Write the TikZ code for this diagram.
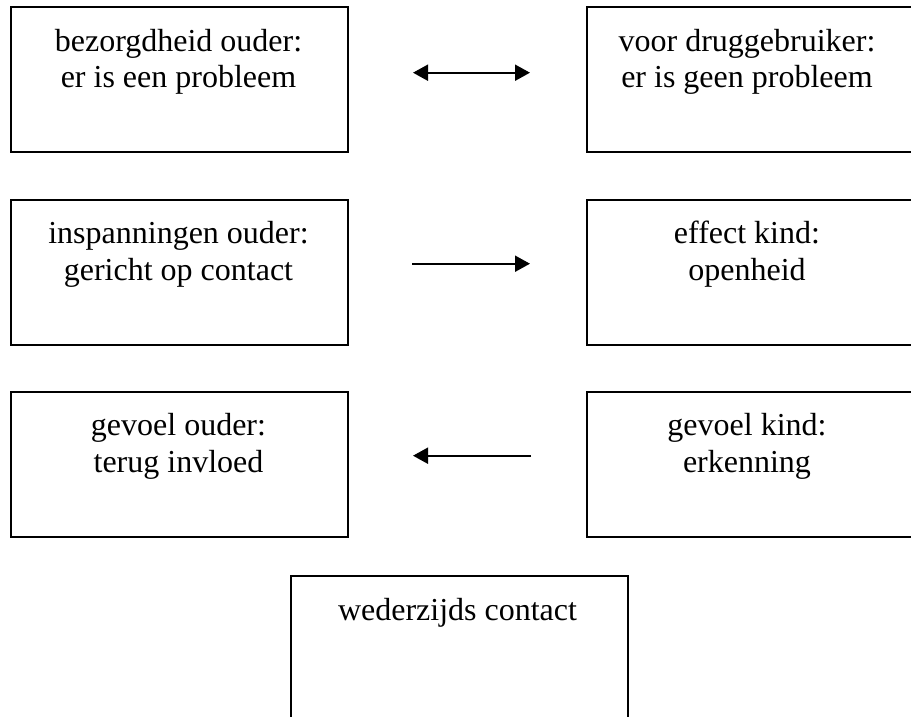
\documentclass[tikz,border=0pt]{standalone}
\usepackage{fontspec}
\setmainfont{Liberation Serif}
\usetikzlibrary{arrows.meta}
\begin{document}
\begin{tikzpicture}[x=1pt,y=-1pt,
  box/.style={draw, line width=2pt, minimum width=337pt, minimum height=145pt, inner sep=0pt, anchor=north west},
  txt/.style={anchor=base, align=center, inner sep=0pt, font=\fontsize{32}{36.8}\selectfont},
  arr/.style={line width=2pt, -{Triangle[length=15pt,width=16pt]}},
  darr/.style={line width=2pt, {Triangle[length=15pt,width=16pt]}-{Triangle[length=15pt,width=16pt]}}]
\useasboundingbox (0,0) rectangle (911,717);
\clip (0,0) rectangle (911,717);
% boxes
\node[box] (l1) at (10,6) {};
\node[box] (r1) at (586,6) {};
\node[box] (l2) at (10,198.5) {};
\node[box] (r2) at (586,198.5) {};
\node[box] (l3) at (10,390.5) {};
\node[box] (r3) at (586,390.5) {};
\node[box] (b)  at (290,575) {};
% texts (anchor base = baseline of the last line)
\node[txt] (tl1) at ([xshift=168.5pt,yshift=-82pt]l1.north west) {bezorgdheid ouder:\\er is een probleem};
\node[txt] (tr1) at ([xshift=161pt,yshift=-82pt]r1.north west) {voor druggebruiker:\\er is geen probleem};
\node[txt] (tl2) at ([xshift=168.5pt,yshift=-82pt]l2.north west) {inspanningen ouder:\\gericht op contact};
\node[txt] (tr2) at ([xshift=161pt,yshift=-82pt]r2.north west) {effect kind:\\openheid};
\node[txt] (tl3) at ([xshift=168.5pt,yshift=-82pt]l3.north west) {gevoel ouder:\\terug invloed};
\node[txt] (tr3) at ([xshift=161pt,yshift=-82pt]r3.north west) {gevoel kind:\\erkenning};
\node[txt] (tb) at ([xshift=167.5pt,yshift=-45pt]b.north west) {wederzijds contact};
% arrows
\draw[darr, shorten <=64pt, shorten >=56pt] ([yshift=6.8pt]l1.east) -- ([yshift=6.8pt]r1.west);
\draw[arr, shorten <=63pt, shorten >=56pt] ([yshift=8.3pt]l2.east) -- ([yshift=8.3pt]r2.west);
\draw[arr, shorten <=55pt, shorten >=64pt] ([yshift=8.3pt]r3.west) -- ([yshift=8.3pt]l3.east);
\end{tikzpicture}
\end{document}
